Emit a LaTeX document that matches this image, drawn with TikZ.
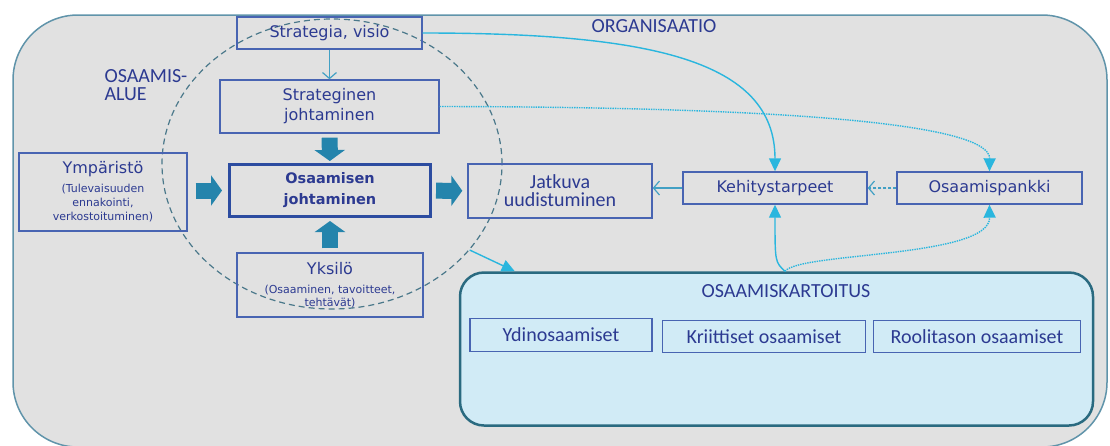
\documentclass[tikz,border=0pt]{standalone}
\usepackage{fontspec}
\setmainfont{DejaVu Sans}
\newfontfamily\calfont{Carlito}
\usepackage{xcolor}
\usepackage{tikz}
\usetikzlibrary{arrows.meta,positioning,shapes.geometric}
\definecolor{orgfill}{RGB}{225,225,225}
\definecolor{orgline}{RGB}{96,148,170}
\definecolor{boxblue}{RGB}{72,100,178}
\definecolor{boxdark}{RGB}{44,76,160}
\definecolor{textblue}{RGB}{44,58,145}
\definecolor{fatteal}{RGB}{36,132,172}
\definecolor{linkcyan}{RGB}{42,182,222}
\definecolor{thinteal}{RGB}{66,160,196}
\definecolor{kartfill}{RGB}{209,235,246}
\definecolor{kartline}{RGB}{42,106,128}
\definecolor{dashteal}{RGB}{74,120,138}
\newcommand\notefont{\fontsize{11}{14}\selectfont}
\newcommand\calsize{\calfont\fontsize{20}{18}\selectfont}

\begin{document}
\begin{tikzpicture}[x=1pt,y=-1pt,
        box/.style={draw=boxblue,line width=1.4pt,text=textblue,align=center,inner sep=0pt,
            font=\fontsize{16}{20}\selectfont},
        calbox/.style={box,font=\calsize},
        fatarrow/.style={fatteal,line width=16pt,-{Triangle[length=11pt,width=30pt]}},
        thinarrow/.style={thinteal,line width=1.2pt,-{Straight Barb[length=6pt,width=14pt]}},
        linkarrow/.style={linkcyan,line width=1.4pt,-{Triangle[length=13pt,width=12pt]}}]
                \useasboundingbox (0,0) rectangle (1110,445);
                \clip (0,0) rectangle (1110,445);
                % Organisation
                \draw[fill=orgfill,draw=orgline,line width=1.5pt,rounded corners=65pt]
                    (13,15) rectangle (1107,447);
                \node[text=textblue,font=\calsize] (org) at (654,26) {ORGANISAATIO};
                % Competence area
                \node[ellipse,draw=dashteal,line width=1.2pt,dash pattern=on 6pt off 4pt,
                    minimum width=340pt,minimum height=290pt] (alue) at (332,164) {};
                \node[anchor=west,align=left,text=textblue,font=\calsize] (aluelabel) at (101,85)
                    {OSAAMIS-\\ALUE};
                % Boxes
                \node[box,minimum width=185pt,minimum height=32pt] (strat) at (329.5,33) {Strategia, visio};
                \node[box,minimum width=219pt,minimum height=53pt] (sjoht) at (329.5,106.5) {Strateginen\\johtaminen};
                \node[box,draw=boxdark,line width=3pt,minimum width=201pt,minimum height=52pt,
                    font=\bfseries\fontsize{14.5}{21}\selectfont] (ojoht) at (330,190.5) {Osaamisen\\johtaminen};
                \node[box,minimum width=168pt,minimum height=78pt] (ymp) at (103,192)
                    {Ympäristö\\[-1pt]{\notefont (Tulevaisuuden}\\[-6pt]{\notefont ennakointi,}\\[-6pt]{\notefont verkostoituminen)}};
                \node[box,minimum width=186pt,minimum height=64pt] (yks) at (330,285)
                    {Yksilö\\[-1pt]{\notefont (Osaaminen, tavoitteet,}\\[-7pt]{\notefont tehtävät)}};
                \node[calbox,minimum width=184pt,minimum height=54pt] (jatk) at (560,191) {Jatkuva\\uudistuminen};
                \node[box,minimum width=184pt,minimum height=32pt] (keh) at (775,188) {Kehitystarpeet};
                \node[box,minimum width=185pt,minimum height=32pt] (opank) at (989.5,188) {Osaamispankki};
                % Mapping
                \node[draw=kartline,fill=kartfill,line width=2.5pt,rounded corners=24pt,
                    minimum width=633pt,minimum height=153pt] (kart) at (776.5,349) {};
                \node[text=textblue,font=\calsize] (kartlabel) at (786,291) {OSAAMISKARTOITUS};
                \node[calbox,minimum width=182pt,minimum height=33pt] (ydin) at (561,335) {Ydinosaamiset};
                \node[calbox,minimum width=203pt,minimum height=32pt] (krit) at (764,336.5) {Kriittiset osaamiset};
                \node[calbox,minimum width=207pt,minimum height=32pt] (rool) at (977,336.5) {Roolitason osaamiset};
                % Fat arrows
                \draw[fatarrow,shorten <=4pt,shorten >=2pt] (sjoht) -- (ojoht);
                \draw[fatarrow,shorten <=4pt,shorten >=3pt] (yks) -- (ojoht);
                \draw[fatarrow,shorten <=8pt,shorten >=6pt] (ymp.east |- ojoht.west) -- (ojoht.west);
                \draw[fatarrow,shorten <=4pt,shorten >=5pt] (ojoht) -- (jatk);
                % Thin arrows
                \draw[thinarrow] (strat) -- (sjoht);
                \draw[thinarrow] (keh.west) -- (keh.west -| jatk.east);
                \draw[thinarrow,dash pattern=on 3pt off 2pt] (opank.west) -- (keh.east);
                % Links
                \coordinate (karttop) at ([xshift=8.5pt]kart.north);
                \draw[linkarrow] (strat.east) .. controls (650,33) and (775,60) .. (keh.north);
                \draw[linkarrow,densely dotted] (sjoht.east) .. controls (800,107) and (990,125) .. (opank.north);
                \draw[linkarrow] (karttop) .. controls (775,262) .. (keh.south);
                \draw[linkarrow,densely dotted] (karttop) .. controls (800,252) and (990,258) .. (opank.south);
                \draw[linkarrow] (alue.-32) -- ([xshift=56pt]kart.north west);
            \end{tikzpicture}
\end{document}
